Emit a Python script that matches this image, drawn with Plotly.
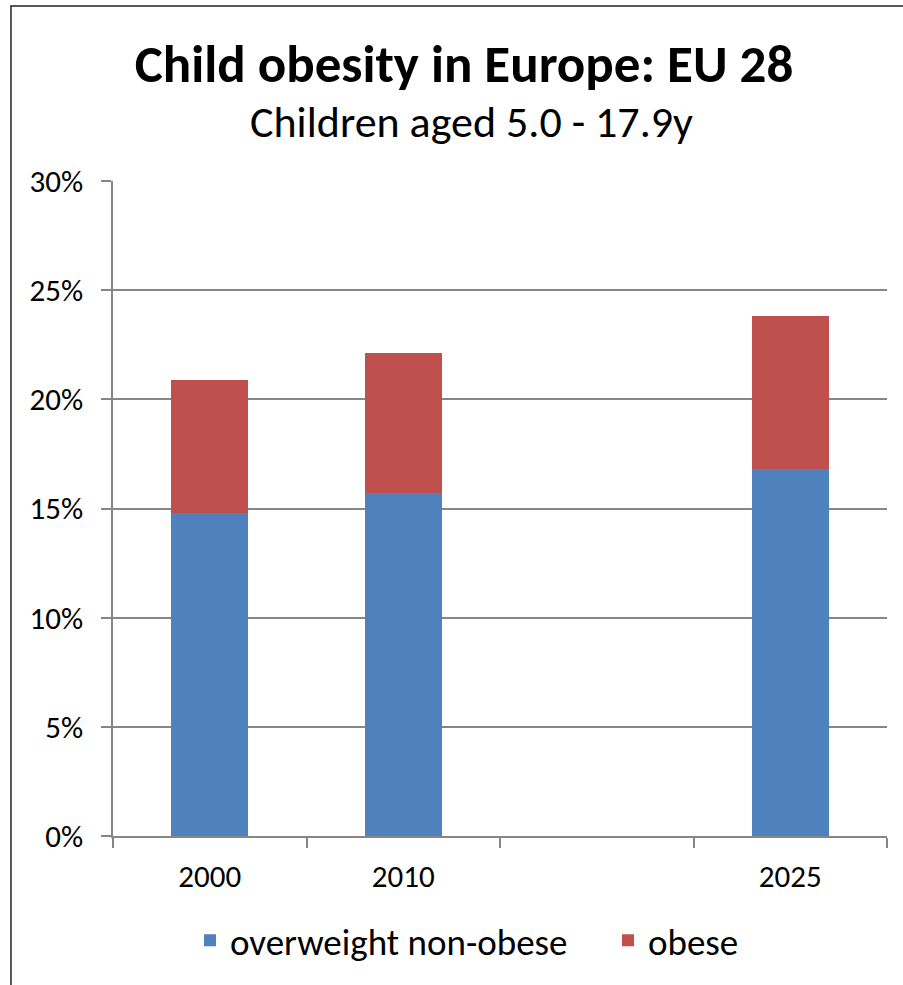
import plotly.graph_objects as go

categories = ["2000", "2010", " ", "2025"]
overweight_non_obese = [14.8, 15.7, None, 16.8]
obese = [6.1, 6.4, None, 7.0]
y_tick_values = [0, 5, 10, 15, 20, 25, 30]
y_tick_labels = ["0%", "5%", "10%", "15%", "20%", "25%", "30%"]

FONT = "Carlito, Lato, sans-serif"
GRID = "#868686"

fig = go.Figure()
fig.add_trace(go.Bar(x=categories, y=overweight_non_obese, name="overweight non-obese",
                     marker=dict(color="#4F81BD", line=dict(width=0)), legend="legend"))
fig.add_trace(go.Bar(x=categories, y=obese, name="obese",
                     marker=dict(color="#C0504D", line=dict(width=0)), legend="legend2"))

legend_common = dict(orientation="h", xanchor="left", y=-0.160, yanchor="middle",
                     font=dict(family=FONT, size=37), itemwidth=30, bgcolor="rgba(0,0,0,0)")

fig.update_layout(
    barmode="stack",
    bargap=0.6,
    width=903, height=985,
    margin=dict(l=113, r=16, t=181, b=149),
    paper_bgcolor="white", plot_bgcolor="white",
    font=dict(family=FONT, color="black", size=31),
    title=dict(
        text="<b>Child obesity in Europe: EU 28</b>",
        x=(464 - 113) / 774, xref="paper", xanchor="center",
        y=1 - 63 / 985, yref="container", yanchor="middle",
        font=dict(family=FONT, size=53, color="black"),
    ),
    annotations=[dict(text="Children aged 5.0 - 17.9y", xref="paper", yref="paper",
                      x=(471 - 113) / 774, y=(836 - 122) / 655, xanchor="center", yanchor="middle",
                      showarrow=False, font=dict(family=FONT, size=44, color="black"))],
    showlegend=True,
    legend=dict(x=(190 - 113) / 774, **legend_common),
    legend2=dict(x=(608 - 113) / 774, **legend_common),
    xaxis=dict(type="category", categoryorder="array", categoryarray=categories,
               range=[-0.5, 3.5], tickson="boundaries", ticks="outside", ticklen=10,
               tickcolor=GRID, tickwidth=1.5, showline=True, linecolor=GRID, linewidth=1.5,
               showgrid=False, ticklabelstandoff=12, tickfont=dict(size=31)),
    yaxis=dict(range=[0, 30], tickvals=y_tick_values, ticktext=y_tick_labels,
               ticks="outside", ticklen=10, tickcolor=GRID, tickwidth=1.5,
               showline=True, linecolor=GRID, linewidth=1.5,
               showgrid=True, gridcolor=GRID, gridwidth=1.5, zeroline=False,
               ticklabelstandoff=12, tickfont=dict(size=31)),
    shapes=[dict(type="rect", xref="paper", yref="paper",
                 x0=-0.1318, x1=1.2, y0=-0.4, y1=1.267,
                 line=dict(color="#222222", width=1.5), fillcolor="rgba(0,0,0,0)", layer="below")],
)

fig.write_html("out.html", config={"displayModeBar": False},
               post_script="document.body.style.margin='0';")
